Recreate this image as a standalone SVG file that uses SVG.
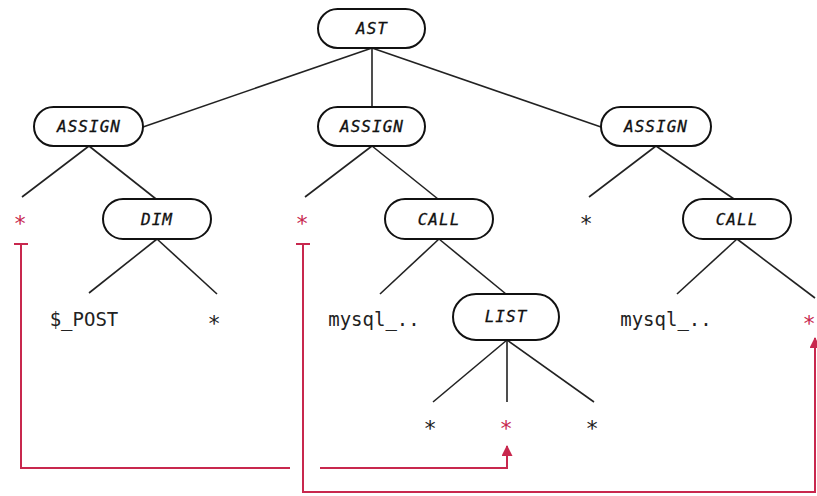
<svg xmlns="http://www.w3.org/2000/svg" width="817" height="496" viewBox="0 0 817 496">
<defs>
<style>
.pill{fill:#fff;stroke:#111;stroke-width:2}
.lbl{font-family:"DejaVu Sans Mono",monospace;font-style:italic;font-size:16px;fill:#111;stroke:#111;stroke-width:0.3;text-anchor:middle;letter-spacing:1px}
.leaf{font-family:"DejaVu Sans Mono",monospace;font-size:19px;fill:#222;text-anchor:middle}
.star{font-family:"DejaVu Sans Mono",monospace;font-size:22px;fill:#222;text-anchor:middle}
.red{fill:#c8284e}
.edge{stroke:#222;stroke-width:1.6;fill:none}
.flow{stroke:#c8284e;stroke-width:2;fill:none}
</style>
<marker id="ah" viewBox="0 0 10 10" refX="9" refY="5" markerWidth="6.5" markerHeight="5.5" orient="auto" markerUnits="strokeWidth">
<path d="M0,0 L10,5 L0,10 z" fill="#c8284e"/>
</marker>
</defs>
<g id="edges">
<line class="edge" x1="372" y1="48" x2="143" y2="127"/>
<line class="edge" x1="372" y1="48" x2="372" y2="107"/>
<line class="edge" x1="372" y1="48" x2="601" y2="127"/>
<line class="edge" x1="89" y1="146" x2="22" y2="197"/>
<line class="edge" x1="89" y1="146" x2="156" y2="199"/>
<line class="edge" x1="157" y1="239" x2="89" y2="293"/>
<line class="edge" x1="157" y1="239" x2="217" y2="294"/>
<line class="edge" x1="372" y1="146" x2="305" y2="197"/>
<line class="edge" x1="372" y1="146" x2="438" y2="199"/>
<line class="edge" x1="439" y1="239" x2="380" y2="294"/>
<line class="edge" x1="439" y1="239" x2="506" y2="294"/>
<line class="edge" x1="507" y1="340" x2="433" y2="402"/>
<line class="edge" x1="507" y1="340" x2="507" y2="402"/>
<line class="edge" x1="507" y1="340" x2="594" y2="402"/>
<line class="edge" x1="656" y1="146" x2="589" y2="197"/>
<line class="edge" x1="656" y1="146" x2="734" y2="199"/>
<line class="edge" x1="737" y1="239" x2="677" y2="294"/>
<line class="edge" x1="737" y1="239" x2="815" y2="298"/>
</g>
<g id="flows">
<line class="flow" x1="14" y1="244" x2="28" y2="244"/>
<polyline class="flow" points="21,244 21,468 290,468"/>
<polyline class="flow" points="320,468 507,468 507,446" marker-end="url(#ah)"/>
<line class="flow" x1="296" y1="244" x2="310" y2="244"/>
<polyline class="flow" points="303,244 303,492 815,492 815,338" marker-end="url(#ah)"/>
</g>
<g id="ast"><rect class="pill" x="318" y="9" width="107" height="39" rx="19.5"/><text class="lbl" x="372" y="34">AST</text></g>
<g id="assign1"><rect class="pill" x="34" y="107" width="109" height="39" rx="19.5"/><text class="lbl" x="89" y="132">ASSIGN</text></g>
<g id="assign2"><rect class="pill" x="318" y="107" width="107" height="39" rx="19.5"/><text class="lbl" x="372" y="132">ASSIGN</text></g>
<g id="assign3"><rect class="pill" x="601" y="107" width="110" height="39" rx="19.5"/><text class="lbl" x="656" y="132">ASSIGN</text></g>
<g id="star1"><text class="star red" x="20" y="231">*</text></g>
<g id="dim"><rect class="pill" x="103" y="199" width="108" height="40" rx="20"/><text class="lbl" x="157" y="225">DIM</text></g>
<g id="star2"><text class="star red" x="302" y="231">*</text></g>
<g id="call1"><rect class="pill" x="385" y="199" width="108" height="40" rx="20"/><text class="lbl" x="439" y="225">CALL</text></g>
<g id="star3"><text class="star" x="586" y="231">*</text></g>
<g id="call2"><rect class="pill" x="683" y="199" width="108" height="40" rx="20"/><text class="lbl" x="737" y="225">CALL</text></g>
<g id="post"><text class="leaf" x="84" y="326">$_POST</text></g>
<g id="star4"><text class="star" x="214" y="331">*</text></g>
<g id="mysql1"><text class="leaf" x="374" y="326">mysql_..</text></g>
<g id="list"><rect class="pill" x="453" y="294" width="106" height="46" rx="23"/><text class="lbl" x="506" y="322">LIST</text></g>
<g id="mysql2"><text class="leaf" x="666" y="326">mysql_..</text></g>
<g id="star5"><text class="star red" x="809" y="331">*</text></g>
<g id="star6"><text class="star" x="430" y="436">*</text></g>
<g id="star7"><text class="star red" x="506" y="436">*</text></g>
<g id="star8"><text class="star" x="592" y="436">*</text></g>
</svg>
